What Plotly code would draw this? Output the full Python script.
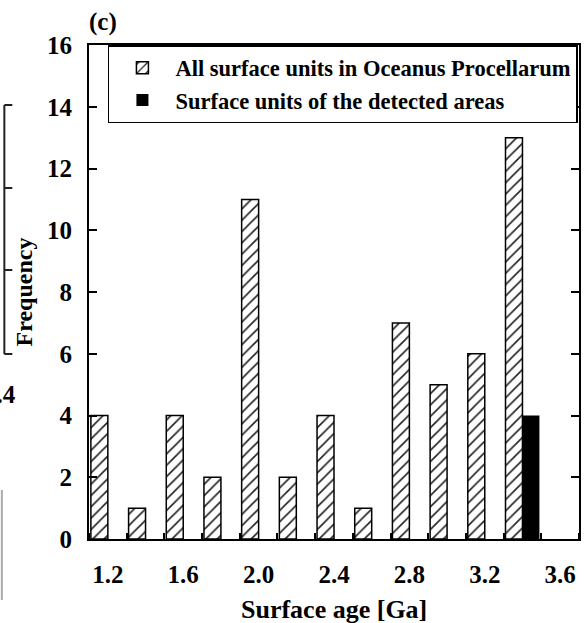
import plotly.graph_objects as go

# ---- data ----
categories = [1.2, 1.4, 1.6, 1.8, 2.0, 2.2, 2.4, 2.6, 2.8, 3.0, 3.2, 3.4]
all_units = [4, 1, 4, 2, 11, 2, 4, 1, 7, 5, 6, 13]
detected_units = [0, 0, 0, 0, 0, 0, 0, 0, 0, 0, 0, 4]
x_tick_vals = [1.2, 1.6, 2.0, 2.4, 2.8, 3.2, 3.6]
x_tick_text = ["1.2", "1.6", "2.0", "2.4", "2.8", "3.2", "3.6"]
y_tick_vals = [0, 2, 4, 6, 8, 10, 12, 14, 16]

W, H = 584, 623
ML, MR, MT, MB = 89, 3, 45, 84
PW, PH = W - ML - MR, H - MT - MB
FONT = "Liberation Serif"


def px_x(px):
    return (px - ML) / PW


def px_y(py):
    return (H - MB - py) / PH


fig = go.Figure()
fig.add_trace(go.Bar(
    x=categories, y=all_units, name="All surface units in Oceanus Procellarum",
    marker=dict(color="white",
                line=dict(color="black", width=1.5),
                pattern=dict(shape="/", size=8, solidity=0.2,
                             fgcolor="#222", bgcolor="white", fillmode="replace")),
))
fig.add_trace(go.Bar(
    x=categories, y=detected_units, name="Surface units of the detected areas",
    marker=dict(color="black", line=dict(color="black", width=0)),
))

font = dict(family=FONT, size=25, color="black", weight="bold")

fig.update_layout(
    width=W, height=H,
    margin=dict(l=ML, r=MR, t=MT, b=MB),
    paper_bgcolor="white", plot_bgcolor="white",
    barmode="group", bargap=0.1, bargroupgap=0,
    font=font,
    showlegend=True,
    legend=dict(x=px_x(108), y=1, xanchor="left", yanchor="top",
                bordercolor="black", borderwidth=1.5, bgcolor="white",
                itemwidth=56,
                font=dict(family=FONT, size=22.5, color="black", weight="bold"),
                tracegroupgap=0),
    xaxis=dict(range=[1.1, 3.7], tickvals=x_tick_vals, ticktext=x_tick_text,
               ticks="", showline=True, linecolor="black", linewidth=2,
               mirror=True, showgrid=False, zeroline=False,
               ticklabelstandoff=12,
               minor=dict(tick0=1.1, dtick=0.2, ticks="inside", ticklen=6,
                          tickwidth=1.5, tickcolor="black", showgrid=False),
               tickfont=font),
    yaxis=dict(range=[0, 16], tickvals=y_tick_vals, ticks="inside",
               ticklen=8, tickwidth=1.5, tickcolor="black",
               showline=True, linecolor="black", linewidth=2,
               mirror="ticks", showgrid=False, zeroline=False,
               ticklabelstandoff=10, tickfont=font,
               title=dict(text="Frequency",
                          font=dict(family=FONT, size=24, color="black", weight="bold"),
                          standoff=8)),
)

# x-axis title (partly cut off at the bottom in the reference)
fig.add_annotation(text="Surface age [Ga]", xref="paper", yref="paper",
                   x=0.5, y=px_y(609), xanchor="center", yanchor="middle",
                   showarrow=False, font=dict(family=FONT, size=26, color="black", weight="bold"))
# panel label
fig.add_annotation(text="(c)", xref="paper", yref="paper",
                   x=px_x(87), y=px_y(22), xanchor="left", yanchor="middle",
                   showarrow=False, font=font)

# remnant of neighbouring panel on the left edge
fig.add_shape(type="line", xref="paper", yref="paper",
              x0=px_x(4), x1=px_x(4), y0=px_y(105), y1=px_y(354),
              line=dict(color="#222", width=2))
for ty in [105, 188, 270, 354]:
    fig.add_shape(type="line", xref="paper", yref="paper",
                  x0=px_x(4), x1=px_x(12), y0=px_y(ty), y1=px_y(ty),
                  line=dict(color="#222", width=2))
fig.add_shape(type="line", xref="paper", yref="paper",
              x0=px_x(1.5), x1=px_x(1.5), y0=px_y(490), y1=px_y(600),
              line=dict(color="#aaa", width=2))
fig.add_annotation(text="1.4", xref="paper", yref="paper",
                   x=px_x(18), y=px_y(394), xanchor="right", yanchor="middle",
                   showarrow=False, font=font)

fig.write_html("out.html")
